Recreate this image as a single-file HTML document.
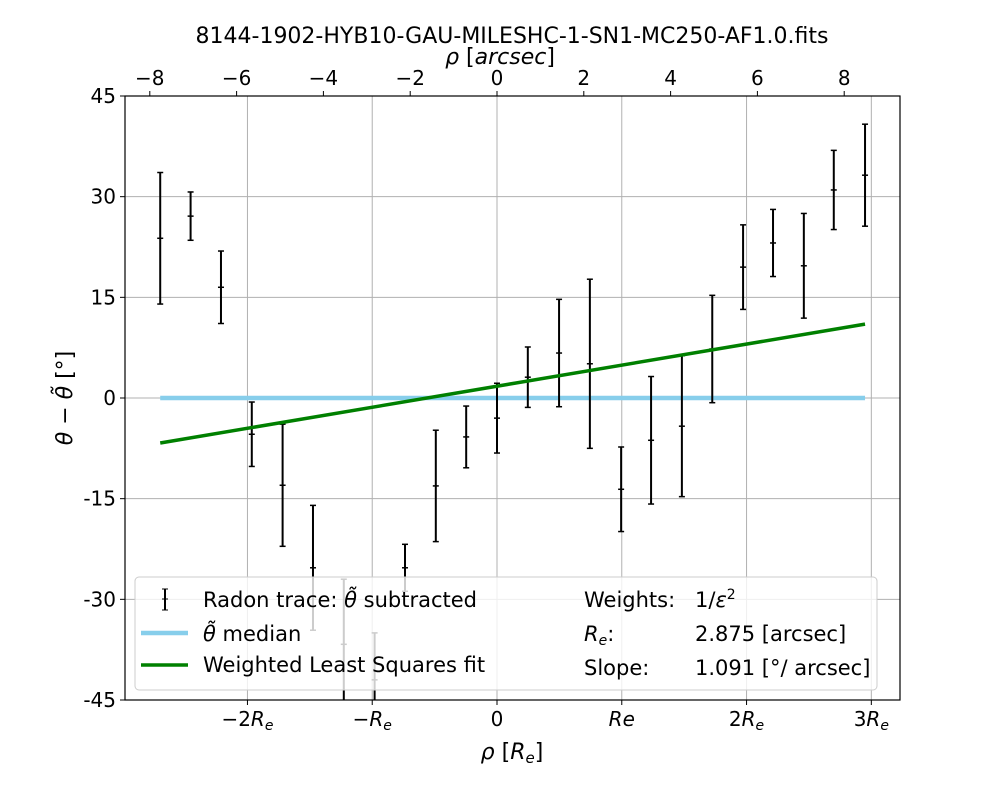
<!DOCTYPE html>
<html><head><meta charset="utf-8"><style>
body{margin:0;background:#fff}
svg text{font-family:"DejaVu Sans","Liberation Sans",sans-serif;fill:#000}
</style></head><body>
<svg id="chart" width="1000" height="800" xmlns="http://www.w3.org/2000/svg">
<rect width="1000" height="800" fill="#fff"/>
<g id="grid"></g>
<g id="marks"></g>
<g id="axes"></g>
<text x="512" y="43" font-size="22" text-anchor="middle">8144-1902-HYB10-GAU-MILESHC-1-SN1-MC250-AF1.0.fits</text>
<text x="500" y="64" font-size="22" text-anchor="middle"><tspan font-style="italic">ρ</tspan> [<tspan font-style="italic">arcsec</tspan>]</text>
<text x="512" y="759" font-size="22" text-anchor="middle"><tspan font-style="italic">ρ</tspan> [<tspan font-style="italic">R</tspan><tspan font-style="italic" font-size="15" dy="4">e</tspan><tspan dy="-4">]</tspan></text>
<text transform="translate(72,398) rotate(-90)" font-size="22" text-anchor="middle"><tspan font-style="italic">θ</tspan> − <tspan font-style="italic">θ̃</tspan> [°]</text>
<g>
<rect x="135" y="577" width="742" height="113" rx="4" fill="#fff" fill-opacity="0.8" stroke="#ccc"/>
<line x1="165" x2="165" y1="589" y2="610" stroke="#000" stroke-width="2"/>
<line x1="162" x2="168" y1="589" y2="589" stroke="#000"/><line x1="162" x2="168" y1="610" y2="610" stroke="#000"/><line x1="162" x2="168" y1="599" y2="599" stroke="#000"/>
<text x="203" y="607" font-size="21">Radon trace: <tspan font-style="italic">θ̃</tspan> subtracted</text>
<line x1="141" x2="188" y1="633" y2="633" stroke="#87ceeb" stroke-width="4.5"/>
<text x="203" y="641" font-size="21"><tspan font-style="italic">θ̃</tspan> median</text>
<line x1="141" x2="188" y1="665" y2="665" stroke="#008000" stroke-width="3.5"/>
<text x="203" y="672" font-size="21">Weighted Least Squares fit</text>
<text x="584" y="607" font-size="21">Weights:</text><text x="695" y="607" font-size="21">1/<tspan font-style="italic">ε</tspan><tspan font-size="14" dy="-8">2</tspan></text>
<text x="584" y="641" font-size="21"><tspan font-style="italic">R</tspan><tspan font-style="italic" font-size="14" dy="4">e</tspan><tspan dy="-4">:</tspan></text><text x="695" y="641" font-size="21">2.875 [arcsec]</text>
<text x="584" y="675" font-size="21">Slope:</text><text x="695" y="675" font-size="21">1.091 [°/ arcsec]</text>
</g>
</svg>
<script>
const xArcsec=[-7.76,-7.06,-6.36,-5.65,-4.94,-4.24,-3.53,-2.82,-2.12,-1.41,-0.71,0,0.71,1.43,2.14,2.86,3.55,4.26,4.96,5.67,6.36,7.07,7.76,8.48];
const yVals=[23.8,27.1,16.5,-5.4,-13.0,-25.3,-36.7,-42.0,-25.3,-13.1,-5.8,-3.0,3.1,6.7,5.1,-13.6,-6.3,-4.2,7.3,19.5,23.1,19.7,31.0,33.2];
const yErr=[9.8,3.6,5.4,4.8,9.1,9.3,9.7,7.0,3.5,8.3,4.6,5.2,4.5,8.0,12.6,6.3,9.5,10.5,8.0,6.3,5.0,7.8,5.9,7.6];
const fitSlope=1.091, fitIntercept=1.76;
const yTicks=[45,30,15,0,-15,-30,-45];
const topTicks=[-8,-6,-4,-2,0,2,4,6,8];
const reTicks=[-2,-1,0,1,2,3];
const reLabels=["−2R_e","−R_e","0","Re","2R_e","3R_e"];
const Re=2.875;
const L=125,R=900,T=96,B=700,x0=497,pxPerArc=43.4;
const X=a=>x0+a*pxPerArc;
const Y=v=>398-v*(302/45);
const NS="http://www.w3.org/2000/svg";
function mk(tag,attrs,parent){const e=document.createElementNS(NS,tag);for(const k in attrs)e.setAttribute(k,attrs[k]);parent.appendChild(e);return e;}
const svg=document.getElementById('chart');
const grid=document.getElementById('grid'),marks=document.getElementById('marks'),axes=document.getElementById('axes');
reTicks.forEach(t=>{const l=mk('line',{x1:X(t*Re),x2:X(t*Re),y1:T,y2:B,stroke:'#b0b0b0','stroke-width':1},grid);

});
yTicks.forEach(t=>{const l=mk('line',{x1:L,x2:R,y1:Y(t),y2:Y(t),stroke:'#b0b0b0','stroke-width':1},grid);

});
const defs=mk('defs',{},svg);
const clip=mk('clipPath',{id:'pc'},defs);mk('rect',{x:L,y:T,width:R-L,height:B-T},clip);
marks.setAttribute('clip-path','url(#pc)');
const xmin=xArcsec[0],xmax=xArcsec[xArcsec.length-1];
const med=mk('line',{x1:X(xmin),x2:X(xmax),y1:Y(0),y2:Y(0),stroke:'#87ceeb','stroke-width':4.5},marks);


xArcsec.forEach((a,i)=>{const g=mk('g',{},marks);


const x=X(a),y1=Y(yVals[i]+yErr[i]),y2=Y(yVals[i]-yErr[i]),yc=Y(yVals[i]);
mk('line',{x1:x,x2:x,y1:y1,y2:y2,stroke:'#000','stroke-width':2},g);
mk('line',{x1:x-3,x2:x+3,y1:y1,y2:y1,stroke:'#000','stroke-width':1.5},g);
mk('line',{x1:x-3,x2:x+3,y1:y2,y2:y2,stroke:'#000','stroke-width':1.5},g);
mk('line',{x1:x-3,x2:x+3,y1:yc,y2:yc,stroke:'#000','stroke-width':1.5},g);});
const fit=mk('line',{x1:X(xmin),x2:X(xmax),y1:Y(fitIntercept+fitSlope*xmin),y2:Y(fitIntercept+fitSlope*xmax),stroke:'#008000','stroke-width':3.5},marks);


const fr=mk('rect',{x:L,y:T,width:R-L,height:B-T,fill:'none',stroke:'#000','stroke-width':1.2},axes);


yTicks.forEach(t=>{mk('line',{x1:L-5,x2:L,y1:Y(t),y2:Y(t),stroke:'#000'},axes);
const tx=mk('text',{x:L-9,y:Y(t)+7,'font-size':20,'text-anchor':'end'},axes);tx.textContent=t;

});
topTicks.forEach(t=>{mk('line',{x1:X(t),x2:X(t),y1:T-5,y2:T,stroke:'#000'},axes);
const tx=mk('text',{x:X(t),y:T-11,'font-size':20,'text-anchor':'middle'},axes);tx.textContent=t<0?'−'+(-t):t;

});
reTicks.forEach((t,i)=>{mk('line',{x1:X(t*Re),x2:X(t*Re),y1:B,y2:B+5,stroke:'#000'},axes);
const tx=mk('text',{x:X(t*Re),y:B+26,'font-size':20,'text-anchor':'middle'},axes);
const lab=reLabels[i];
if(lab.includes('R_e')){tx.appendChild(document.createTextNode(lab.replace('R_e','')));const s=mk('tspan',{'font-style':'italic'},tx);s.textContent='R';const s2=mk('tspan',{'font-style':'italic','font-size':14,dy:4},tx);s2.textContent='e';}
else if(lab==='Re'){const s=mk('tspan',{'font-style':'italic'},tx);s.textContent='Re';}
else tx.textContent=lab;

});
</script>
</body></html>
